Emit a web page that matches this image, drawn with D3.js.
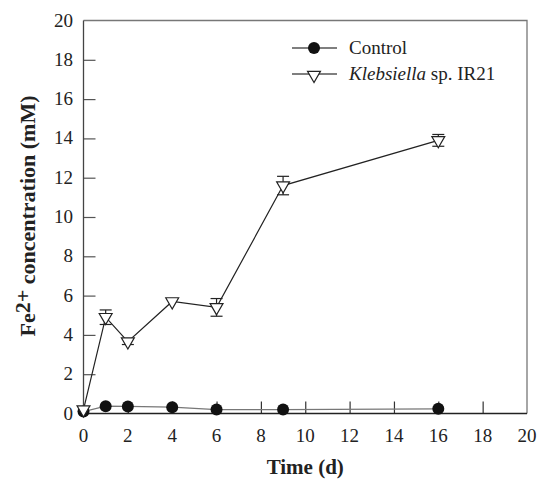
<!DOCTYPE html>
<html>
<head>
<meta charset="utf-8">
<script src="https://cdn.jsdelivr.net/npm/d3@7"></script>
<style>
  body { margin: 0; background: #fff; }
</style>
</head>
<body>
<div id="chart"></div>
<script>
var days = [0, 1, 2, 4, 6, 9, 16];
var controlVals = [0.1, 0.37, 0.36, 0.32, 0.2, 0.2, 0.24];
var klebVals = [0.2, 4.9, 3.66, 5.7, 5.4, 11.6, 13.9];
var klebErr = [0, 0.37, 0.15, 0.1, 0.45, 0.47, 0.3];
var xTicks = [0, 2, 4, 6, 8, 10, 12, 14, 16, 18, 20];
var yTicks = [0, 2, 4, 6, 8, 10, 12, 14, 16, 18, 20];

var width = 541, height = 480;
var pLeft = 83.5, pRight = 527, pTop = 20.5, pBottom = 413.5;
var serif = "'Liberation Serif', 'Times New Roman', Times, serif";

var svg = d3.select("#chart").append("svg")
    .attr("width", width)
    .attr("height", height)
    .attr("font-family", serif);

var x = d3.scaleLinear().domain([0, 20]).range([pLeft, pRight]);
var y = d3.scaleLinear().domain([0, 20]).range([pBottom, pTop]);

// frame (top + right)
svg.append("path")
    .attr("d", "M" + pLeft + "," + pTop + "H" + pRight + "V" + pBottom)
    .attr("fill", "none")
    .attr("stroke", "#777")
    .attr("stroke-width", 1.3);

// axes with inward ticks
var xAxis = svg.append("g")
    .attr("transform", "translate(0," + pBottom + ")")
    .call(d3.axisTop(x).tickValues(xTicks).tickSize(12).tickFormat(""));
xAxis.select(".domain").remove();
xAxis.append("line").attr("x1", pLeft).attr("x2", pRight).attr("stroke", "#222").attr("stroke-width", 1.3);
xAxis.selectAll(".tick line").attr("stroke", "#333").attr("stroke-width", 1.2);
xAxis.selectAll(".tick").filter(function(d){ return d == 0 || d == 20; }).select("line").remove();

var yAxis = svg.append("g")
    .attr("transform", "translate(" + pLeft + ",0)")
    .call(d3.axisRight(y).tickValues(yTicks).tickSize(12).tickFormat(""));
yAxis.select(".domain").remove();
yAxis.append("line").attr("y1", pTop).attr("y2", pBottom).attr("stroke", "#444").attr("stroke-width", 1.3);
yAxis.selectAll(".tick line").attr("stroke", "#555").attr("stroke-width", 1.2);
yAxis.selectAll(".tick").filter(function(d){ return d == 0 || d == 20; }).select("line").remove();

// tick labels
svg.selectAll(".xlab").data(xTicks).enter().append("text")
    .attr("x", function(d){ return x(d); })
    .attr("y", 442)
    .attr("text-anchor", "middle")
    .attr("font-family", serif)
    .attr("font-size", 19)
    .attr("fill", "#222")
    .text(function(d){ return d; });

svg.selectAll(".ylab").data(yTicks).enter().append("text")
    .attr("x", 73)
    .attr("y", function(d){ return y(d) + 6; })
    .attr("text-anchor", "end")
    .attr("font-family", serif)
    .attr("font-size", 19)
    .attr("fill", "#222")
    .text(function(d){ return d; });

// axis titles
svg.append("text")
    .attr("x", (pLeft + pRight) / 2)
    .attr("y", 474)
    .attr("text-anchor", "middle")
    .attr("font-family", serif)
    .attr("font-size", 21)
    .attr("font-weight", "bold")
    .attr("fill", "#222")
    .text("Time (d)");

var yt = svg.append("text")
    .attr("transform", "translate(35,216) rotate(-90)")
    .attr("text-anchor", "middle")
    .attr("font-family", serif)
    .attr("font-size", 22)
    .attr("font-weight", "bold")
    .attr("fill", "#222");
yt.append("tspan").text("Fe");
yt.append("tspan").attr("dy", -5).text("2+");
yt.append("tspan").attr("dy", 5).text(" concentration (mM)");

var line = d3.line()
    .x(function(d){ return x(d[0]); })
    .y(function(d){ return y(d[1]); });

var tri = d3.symbol().type(d3.symbolTriangle).size(72);

// control series
svg.append("path")
    .datum(d3.zip(days, controlVals))
    .attr("d", line)
    .attr("fill", "none")
    .attr("stroke", "#777")
    .attr("stroke-width", 1.3);

svg.selectAll(".ctl").data(d3.zip(days, controlVals)).enter().append("circle")
    .attr("cx", function(d){ return x(d[0]); })
    .attr("cy", function(d){ return y(d[1]); })
    .attr("r", 6)
    .attr("fill", "#111");

// klebsiella series
var kd = days.map(function(d, i){ return [d, klebVals[i], klebErr[i]]; });

svg.append("path")
    .datum(kd)
    .attr("d", line)
    .attr("fill", "none")
    .attr("stroke", "#222")
    .attr("stroke-width", 1.2);

var eb = svg.selectAll(".err").data(kd.filter(function(d){ return d[2] > 0.12; })).enter().append("g")
    .attr("stroke", "#222")
    .attr("stroke-width", 1.2);
eb.append("line")
    .attr("x1", function(d){ return x(d[0]); })
    .attr("x2", function(d){ return x(d[0]); })
    .attr("y1", function(d){ return y(d[1] + d[2]); })
    .attr("y2", function(d){ return y(d[1] - d[2]); });
eb.append("line")
    .attr("x1", function(d){ return x(d[0]) - 6; })
    .attr("x2", function(d){ return x(d[0]) + 6; })
    .attr("y1", function(d){ return y(d[1] + d[2]); })
    .attr("y2", function(d){ return y(d[1] + d[2]); });
eb.append("line")
    .attr("x1", function(d){ return x(d[0]) - 6; })
    .attr("x2", function(d){ return x(d[0]) + 6; })
    .attr("y1", function(d){ return y(d[1] - d[2]); })
    .attr("y2", function(d){ return y(d[1] - d[2]); });

svg.selectAll(".kl").data(kd).enter().append("path")
    .attr("d", tri)
    .attr("transform", function(d){ return "translate(" + x(d[0]) + "," + y(d[1]) + ") rotate(180)"; })
    .attr("fill", "#fff")
    .attr("stroke", "#222")
    .attr("stroke-width", 1.2);

// legend
var lg = svg.append("g");
lg.append("line").attr("x1", 292).attr("x2", 337).attr("y1", 48).attr("y2", 48)
    .attr("stroke", "#555").attr("stroke-width", 1.3);
lg.append("circle").attr("cx", 314).attr("cy", 48).attr("r", 6).attr("fill", "#111");
lg.append("text").attr("x", 349).attr("y", 54)
    .attr("font-family", serif).attr("font-size", 19).attr("fill", "#222").text("Control");

lg.append("line").attr("x1", 292).attr("x2", 337).attr("y1", 74).attr("y2", 74)
    .attr("stroke", "#555").attr("stroke-width", 1.3);
lg.append("path").attr("d", tri)
    .attr("transform", "translate(314,75) rotate(180)")
    .attr("fill", "#fff").attr("stroke", "#222").attr("stroke-width", 1.2);
var kt = lg.append("text").attr("x", 349).attr("y", 80)
    .attr("font-family", serif).attr("font-size", 19).attr("fill", "#222");
kt.append("tspan").attr("font-style", "italic").text("Klebsiella");
kt.append("tspan").text(" sp. IR21");
</script>
</body>
</html>
